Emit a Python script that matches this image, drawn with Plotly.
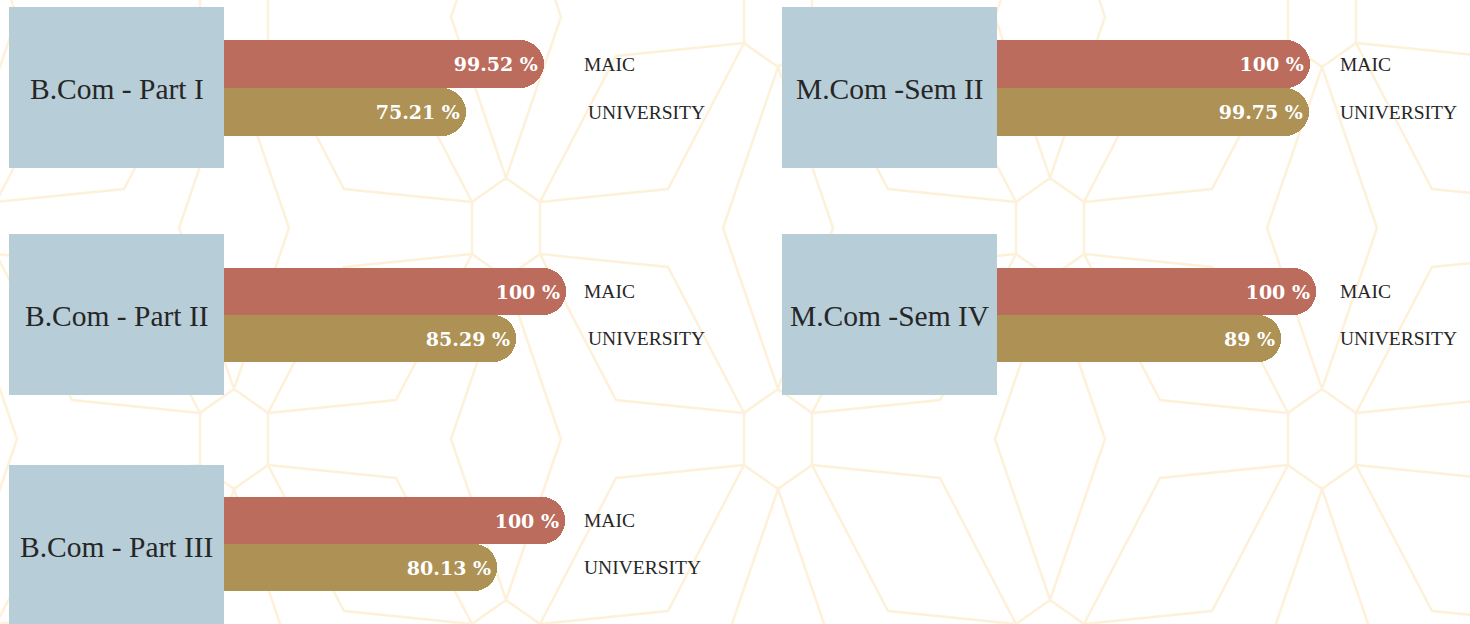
import plotly.graph_objects as go

# ---------------- data ----------------
programs = ["B.Com - Part I", "B.Com - Part II", "B.Com - Part III",
            "M.Com -Sem II", "M.Com -Sem IV"]
maic = [99.52, 100, 100, 100, 100]
university = [75.21, 85.29, 80.13, 99.75, 89]
series_names = ["MAIC", "UNIVERSITY"]

# ---------------- styling / layout ----------------
W, H = 1470, 624
RED = "#BC6C5D"
GOLD = "#AD9155"
BOX = "#B7CDD8"
TXT = "#262626"
PATTERN = "#FDF1D9"

# per panel: label box (x0, y0, x1, y1) px, bar band (top, bottom) px,
# bar base x px, px per percent, x px of the MAIC / UNIVERSITY labels
panels = [
    dict(box=(9, 7, 224, 168), band=(40, 136), base=224, scale=3.22, lab=(582, 586)),
    dict(box=(9, 234, 224, 395), band=(268, 362), base=224, scale=3.42, lab=(582, 586)),
    dict(box=(9, 465, 224, 630), band=(497, 591), base=224, scale=3.41, lab=(582, 582)),
    dict(box=(782, 7, 997, 168), band=(40, 136), base=997, scale=3.13, lab=(1338, 1338)),
    dict(box=(782, 234, 997, 395), band=(268, 362), base=997, scale=3.19, lab=(1338, 1338)),
]


def px(x):
    return x / W


def py(y):
    return 1 - y / H


fig = go.Figure()
shapes = []
annotations = []

# ---------------- decorative background pattern ----------------
hexv = [(0, -50), (34, -26), (34, 26), (0, 50), (-34, 26), (-34, -26)]
lens = [(0, 50), (55, 211), (0, 372), (-55, 211)]
par_r = [(34, 26), (162, 39), (238, 185), (110, 172)]
par_l = [(-x, y) for x, y in par_r]
parts = []
for a in range(-4, 7):
    for b in range(-3, 4):
        if (a + b) % 2:
            continue
        cx, cy = 506 + 272 * a, 228 + 211 * b
        for poly in (hexv, lens, par_r, par_l):
            pts = [f"{px(cx + dx):.5f},{py(cy + dy):.5f}" for dx, dy in poly]
            parts.append("M" + " L".join(pts) + " Z")
shapes.append(dict(type="path", xref="paper", yref="paper", path=" ".join(parts),
                   line=dict(color=PATTERN, width=2.5), layer="below"))

# ---------------- panels ----------------
for i, (name, p) in enumerate(zip(programs, panels)):
    k = i + 1
    xa = "x" if k == 1 else f"x{k}"
    ya = "y" if k == 1 else f"y{k}"
    vals = [maic[i], university[i]]
    fig.add_trace(go.Bar(
        orientation="h",
        y=series_names,
        x=vals,
        xaxis=xa, yaxis=ya,
        marker=dict(color=[RED, GOLD], cornerradius=24, line=dict(width=0)),
        text=[f"{v:g} %" for v in vals],
        textposition="inside",
        insidetextanchor="end",
        textfont=dict(family="DejaVu Serif", size=19, color="white", weight="bold"),
        hoverinfo="skip",
        cliponaxis=False,
    ))
    x0 = p["base"]
    x1 = x0 + p["scale"] * 100
    t, bt = p["band"]
    fig.layout[f"xaxis{k if k > 1 else ''}"] = dict(
        domain=[px(x0), px(x1)], range=[0, 100], visible=False,
        fixedrange=True, anchor=ya)
    fig.layout[f"yaxis{k if k > 1 else ''}"] = dict(
        domain=[py(bt), py(t)], type="category", categoryorder="array",
        categoryarray=["UNIVERSITY", "MAIC"], visible=False,
        fixedrange=True, anchor=xa)

    bx0, by0, bx1, by1 = p["box"]
    shapes.append(dict(type="rect", xref="paper", yref="paper",
                       x0=px(bx0), x1=px(bx1), y0=py(by1), y1=py(by0),
                       fillcolor=BOX, line=dict(width=0), layer="below"))
    annotations.append(dict(
        text=name, xref="paper", yref="paper",
        x=px((bx0 + bx1) / 2), y=py((by0 + min(by1, by0 + 161)) / 2 + 1),
        xanchor="center", yanchor="middle", showarrow=False,
        font=dict(family="Liberation Serif", size=29.5, color=TXT)))
    for sname, lx in zip(series_names, p["lab"]):
        annotations.append(dict(
            text=sname, xref="paper", yref=ya, x=px(lx), y=sname,
            xanchor="left", yanchor="middle", showarrow=False,
            font=dict(family="Liberation Serif", size=19.5, color=TXT)))

fig.update_layout(
    width=W, height=H,
    margin=dict(l=0, r=0, t=0, b=0, pad=0),
    paper_bgcolor="white",
    plot_bgcolor="rgba(0,0,0,0)",
    bargap=0,
    showlegend=False,
    shapes=shapes,
    annotations=annotations,
)

fig.write_html("out.html",
               config={"displayModeBar": False, "staticPlot": False},
               post_script="document.body.style.margin='0';document.body.style.padding='0';")
